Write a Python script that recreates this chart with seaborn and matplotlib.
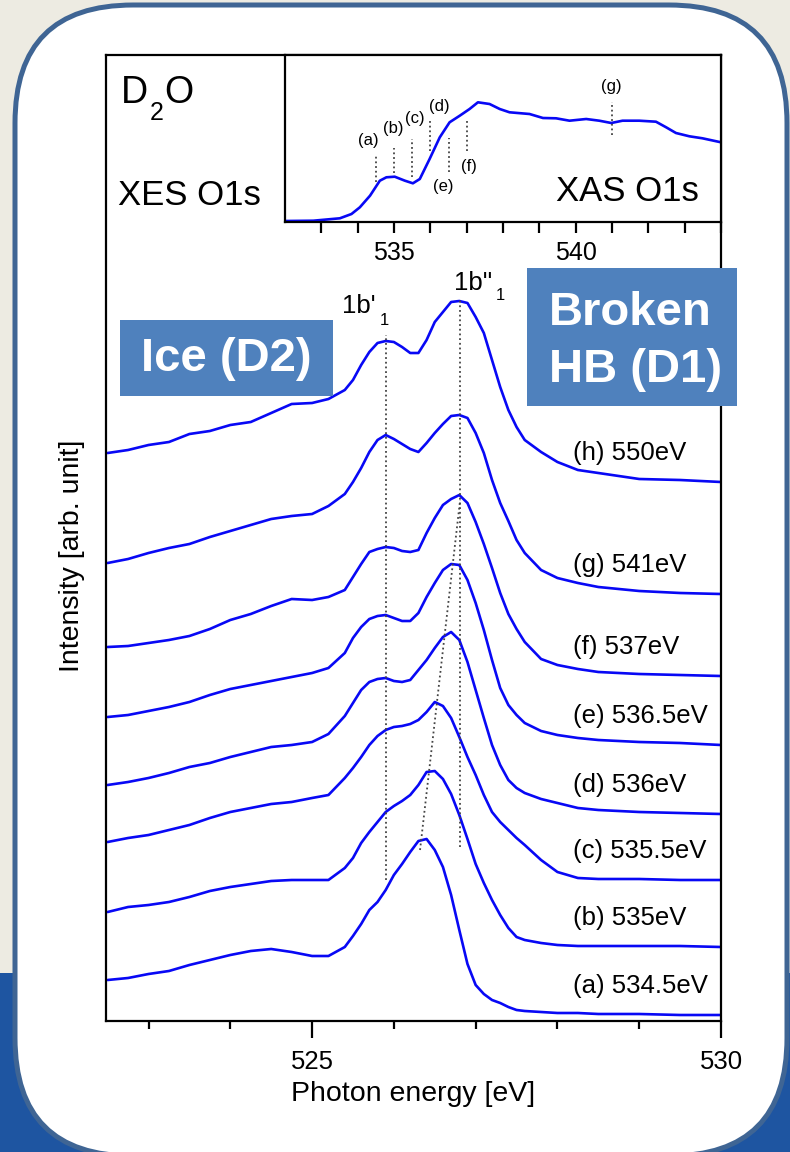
import numpy as np
import pandas as pd
import matplotlib
matplotlib.use("Agg")
import matplotlib.pyplot as plt
import seaborn as sns
from matplotlib.patches import FancyBboxPatch, Rectangle
from matplotlib.transforms import IdentityTransform
from matplotlib.ticker import FixedLocator, NullLocator

# ---------------- data ----------------
energy_ev = [522.5, 522.75, 523.0, 523.25, 523.5, 523.75, 524.0, 524.25, 524.5, 524.75,
             525.0, 525.2, 525.4, 525.5, 525.6, 525.7, 525.8, 525.9, 526.0, 526.1,
             526.2, 526.3, 526.4, 526.5, 526.6, 526.7, 526.8, 526.9, 527.0, 527.1,
             527.2, 527.3, 527.4, 527.5, 527.6, 527.8, 528.0, 528.25, 528.5, 529.0,
             529.5, 530.0]

xes_a = [41, 43, 47, 50, 56, 61, 66, 70, 72, 69, 65, 65, 74, 85, 97, 111, 119, 131, 146, 157,
         169, 180, 182, 171, 154, 126, 91, 57, 36, 27, 21, 18, 14, 11, 10, 9, 8, 8, 7, 7, 6, 6]
xes_b = [109, 114, 116, 119, 124, 130, 134, 137, 140, 141, 141, 141, 153, 163, 178, 189, 199, 209, 215, 220,
         226, 236, 249, 250, 242, 227, 206, 182, 157, 138, 121, 106, 93, 84, 81, 78, 76, 75, 75, 75, 75, 74]
xes_c = [179, 183, 186, 191, 196, 203, 209, 213, 217, 219, 223, 226, 243, 253, 264, 276, 285, 291, 294, 295,
         297, 301, 309, 319, 315, 303, 284, 264, 246, 226, 209, 199, 191, 183, 176, 161, 149, 143, 142, 142, 141, 141]
xes_d = [236, 239, 243, 248, 254, 258, 264, 269, 274, 276, 279, 287, 305, 318, 331, 339, 342, 343, 340, 339,
         341, 351, 361, 373, 384, 389, 381, 359, 331, 303, 276, 256, 241, 233, 228, 222, 218, 213, 211, 209, 208, 207]
xes_e = [304, 306, 310, 314, 319, 326, 332, 336, 340, 344, 348, 353, 368, 383, 394, 402, 405, 406, 403, 400,
         400, 408, 424, 438, 451, 457, 456, 441, 418, 391, 361, 333, 316, 306, 298, 290, 286, 283, 281, 279, 278, 276]
xes_f = [374, 375, 378, 381, 385, 392, 401, 407, 415, 422, 421, 424, 431, 444, 457, 469, 472, 474, 473, 470,
         469, 471, 488, 503, 516, 522, 526, 518, 499, 477, 453, 428, 407, 392, 379, 362, 356, 352, 349, 347, 346, 345]
xes_g = [458, 462, 468, 473, 477, 484, 490, 496, 502, 505, 507, 515, 527, 539, 553, 569, 581, 586, 582, 577,
         572, 569, 578, 588, 597, 605, 606, 603, 588, 568, 541, 518, 500, 481, 468, 451, 443, 438, 434, 430, 428, 427]
xes_h = [568, 571, 576, 579, 587, 590, 596, 599, 608, 617, 618, 622, 631, 641, 656, 669, 678, 680, 679, 674,
         668, 668, 681, 699, 709, 719, 720, 718, 704, 688, 661, 634, 611, 594, 581, 569, 559, 551, 548, 542, 541, 539]

spectrum_labels = ["(a) 534.5eV", "(b) 535eV", "(c) 535.5eV", "(d) 536eV",
                   "(e) 536.5eV", "(f) 537eV", "(g) 541eV", "(h) 550eV"]
spectra = [xes_a, xes_b, xes_c, xes_d, xes_e, xes_f, xes_g, xes_h]

# guide lines (peak positions)
peak_1b1_prime = 525.90
peak_1b1_dprime = 526.81
guide_prime_int = [141, 686]
guide_dprime_int = [174, 721]
shift_line_ev = [526.32, 526.81]
shift_line_int = [171, 521]

# XAS inset
xas_ev = [532.0, 532.78, 533.51, 533.83, 534.06, 534.34, 534.61, 534.79, 535.02, 535.30,
          535.52, 535.71, 535.98, 536.26, 536.53, 536.81, 537.08, 537.31, 537.63, 537.91,
          538.18, 538.73, 539.10, 539.46, 539.83, 540.29, 540.65, 540.98, 541.29, 541.75,
          542.21, 542.49, 542.76, 543.13, 543.49, 544.0]
xas_int = [0, 0.3, 2.7, 7, 13.7, 25.3, 40.3, 43.7, 44.3, 40.3,
           37.7, 42, 62, 83.7, 98.7, 105.3, 112, 118.7, 117, 112,
           108.7, 107, 103, 102.7, 100.3, 102, 100.3, 98, 100.3, 100.3,
           99.3, 93.7, 88, 84.7, 82.7, 78.7]
excite_names = ["(a)", "(b)", "(c)", "(d)", "(e)", "(f)", "(g)"]
excite_ev = [534.5, 535.0, 535.5, 536.0, 536.5, 537.0, 541.0]
excite_lo = [39, 48, 44, 70, 49, 70, 86]
excite_hi = [65, 73, 82, 100, 83, 100, 119]
excite_label_ev = [534.29, 534.98, 535.57, 536.24, 536.35, 537.06, 540.97]
excite_label_int = [80, 92, 102, 115, 35, 54, 135]

# ---------------- style ----------------
sns.set_style("ticks")
plt.rcParams['font.family'] = ['Liberation Sans', 'DejaVu Sans']
plt.rcParams['axes.linewidth'] = 1.6
plt.rcParams['xtick.major.width'] = 1.6
plt.rcParams['xtick.minor.width'] = 1.6
plt.rcParams['xtick.color'] = 'black'
plt.rcParams['xtick.labelcolor'] = 'black'
plt.rcParams['axes.edgecolor'] = 'black'
plt.rcParams['axes.labelcolor'] = 'black'
plt.rcParams['text.color'] = 'black'

W, H = 790, 1152
fig = plt.figure(figsize=(W / 100, H / 100), dpi=100, facecolor='#EDEBE2')
pix = IdentityTransform()

# background decoration
fig.add_artist(Rectangle((0, 0), W, H - 973, transform=pix, facecolor='#1E55A1',
                         edgecolor='none', zorder=-20))
fig.add_artist(FancyBboxPatch((15, -4), 772, 1151, boxstyle="round,pad=0,rounding_size=118",
                              transform=pix, facecolor='white', edgecolor='#3F6594',
                              linewidth=3.6, zorder=-10))

blue = '#0808F5'
dot_style = dict(color='#444444', lw=1.3, ls=(0, (1, 1.6)))

# ---------------- main axes ----------------
ax = fig.add_axes([106 / W, (H - 1021) / H, 615 / W, 966 / H])
ax.set_facecolor('white')
n = len(energy_ev)
df = pd.DataFrame({
    'energy': energy_ev * len(spectra),
    'intensity': [v for s in spectra for v in s],
    'spectrum': [lab for lab in spectrum_labels for _ in range(n)],
})
sns.lineplot(data=df, x='energy', y='intensity', units='spectrum', estimator=None,
             color=blue, lw=1.9, ax=ax, sort=False, legend=False)

ax.plot([peak_1b1_prime] * 2, guide_prime_int, **dot_style)
ax.plot([peak_1b1_dprime] * 2, guide_dprime_int, **dot_style)
ax.plot(shift_line_ev, shift_line_int, **dot_style)

for lab, s in zip(spectrum_labels, spectra):
    ax.text(528.19, s[-1] + 29, lab, fontsize=18.5, va='center', ha='left')

ax.text(525.37, 708, "1b'", fontsize=18.5, va='baseline', ha='left')
ax.text(525.83, 696, "1", fontsize=12, va='baseline', ha='left')
ax.text(526.73, 731, "1b''", fontsize=18.5, va='baseline', ha='left')
ax.text(527.25, 721, "1", fontsize=12, va='baseline', ha='left')

# D2O with a well-lowered subscript
ax.text(0.025, 0.950, "D", transform=ax.transAxes, fontsize=27, va='baseline', ha='left')
ax.text(0.071, 0.933, "2", transform=ax.transAxes, fontsize=18, va='baseline', ha='left')
ax.text(0.095, 0.950, "O", transform=ax.transAxes, fontsize=27, va='baseline', ha='left')
ax.text(0.0195, 0.845, "XES O1s", transform=ax.transAxes, fontsize=25, va='baseline')

ax.set_xlim(522.48, 530)
ax.set_ylim(0, 966)
ax.set_xticks([525, 530])
ax.set_xticklabels(["525", "530"])
ax.xaxis.set_minor_locator(FixedLocator([523, 524, 526, 527, 528, 529]))
ax.tick_params(axis='x', which='major', length=12, direction='out', labelsize=18.5, pad=9)
ax.tick_params(axis='x', which='minor', length=6, direction='out')
ax.set_yticks([])
ax.yaxis.set_minor_locator(NullLocator())
ax.set_xlabel("Photon energy [eV]", fontsize=20.5)
ax.set_ylabel("Intensity [arb. unit]", fontsize=20.5)
ax.xaxis.set_label_coords(0.5, -0.062)
ax.yaxis.set_label_coords(-0.034, 0.482)
for sp in ax.spines.values():
    sp.set_visible(True)
    sp.set_linewidth(1.6)

# ---------------- inset ----------------
axin = fig.add_axes([285 / W, (H - 222) / H, 436 / W, 167 / H])
axin.set_facecolor('white')
sns.lineplot(x=xas_ev, y=xas_int, color=blue, lw=1.9, ax=axin, sort=False)
for e, lo, hi in zip(excite_ev, excite_lo, excite_hi):
    axin.plot([e, e], [lo, hi], **dot_style)
for name, ex, ey in zip(excite_names, excite_label_ev, excite_label_int):
    axin.text(ex, ey, name, fontsize=12, ha='center', va='center')
axin.text(543.4, 20, "XAS O1s", fontsize=25, ha='right', va='baseline')
axin.set_xlim(532, 544)
axin.set_ylim(-1, 166)
axin.set_xticks([535, 540])
axin.xaxis.set_minor_locator(FixedLocator([533, 534, 536, 537, 538, 539, 541, 542, 543, 544]))
axin.tick_params(axis='x', which='both', length=8, direction='out', labelsize=18, pad=6)
axin.set_yticks([])
axin.set_xlabel("")
axin.set_ylabel("")
for sp in axin.spines.values():
    sp.set_visible(True)
    sp.set_linewidth(1.6)

# ---------------- annotation boxes ----------------
box_color = '#4F81BD'
fig.add_artist(Rectangle((120, H - 396), 213, 76, transform=pix, facecolor=box_color,
                         edgecolor='none', zorder=5))
fig.text(226.5, H - 359, "Ice (D2)", transform=pix, fontsize=34, fontweight='bold',
         color='white', ha='center', va='center', zorder=6)
fig.add_artist(Rectangle((527, H - 406), 210, 138, transform=pix, facecolor=box_color,
                         edgecolor='none', zorder=5))
fig.text(549, H - 325, "Broken", transform=pix, fontsize=34, fontweight='bold',
         color='white', ha='left', va='baseline', zorder=6)
fig.text(549, H - 382, "HB (D1)", transform=pix, fontsize=34, fontweight='bold',
         color='white', ha='left', va='baseline', zorder=6)

fig.savefig("out.png", dpi=100, facecolor=fig.get_facecolor())
